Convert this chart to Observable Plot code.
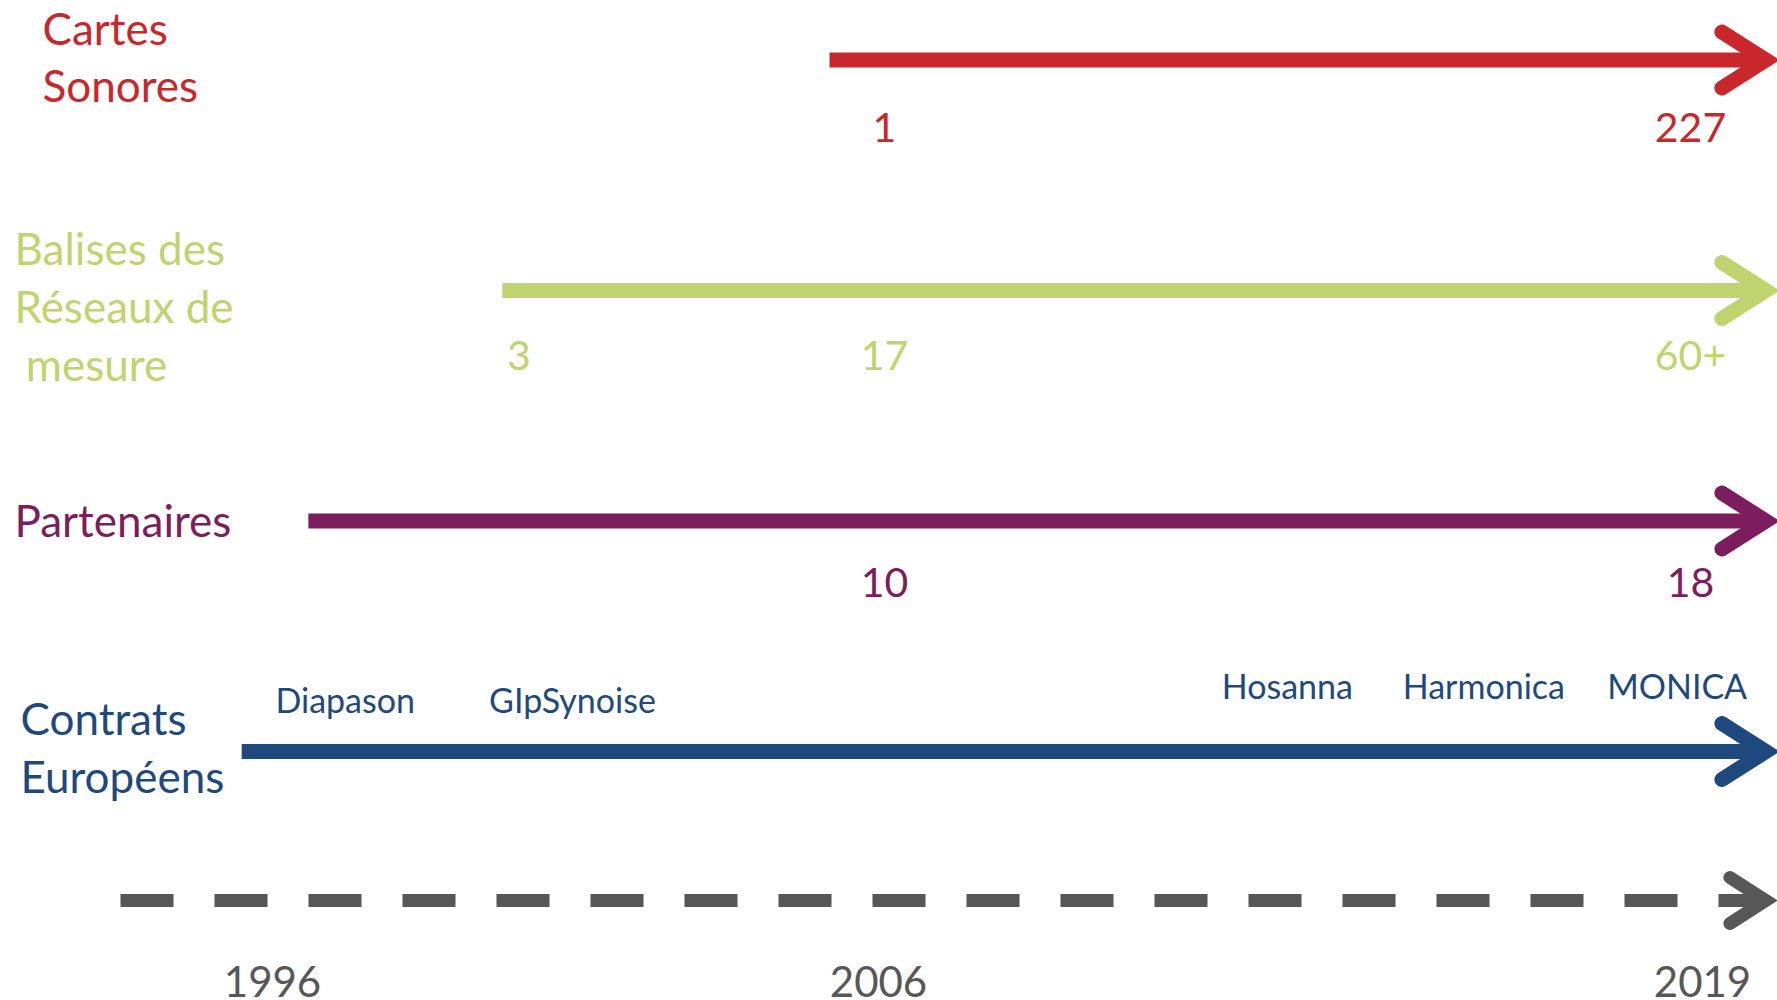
<!DOCTYPE html>
<html>
<head>
<meta charset="utf-8">
<script src="https://cdn.jsdelivr.net/npm/d3@7"></script>
<script src="https://cdn.jsdelivr.net/npm/@observablehq/plot@0.6"></script>
<style>
  html, body { margin: 0; padding: 0; background: #ffffff; overflow: hidden; }
  #chart svg { display: block; }
</style>
</head>
<body>
<div id="chart"></div>
<script>
// ---------- data ----------
const rowIds      = [0, 1, 2, 3];
const rowLabels   = ["Cartes\nSonores", "Balises des\nRéseaux de\n\u00a0mesure", "Partenaires", "Contrats\nEuropéens"];
const startYears  = [2005.2, 1999.8, 1996.6, 1995.5];
const endYears    = [2020, 2020, 2020, 2020];

const countRows   = [0, 0, 1, 1, 1, 2, 2];
const countYears  = [2006, 2019, 2000, 2006, 2019, 2006, 2019];
const countLabels = ["1", "227", "3", "17", "60+", "10", "18"];

const contractNames = ["Diapason", "GIpSynoise", "Hosanna", "Harmonica", "MONICA"];
const contractYears = [1997.2, 2000.95, 2012.45, 2015.55, 2018.6];

const axisYears = [1996, 2006, 2019];
const axisEnd   = 2020;

// ---------- styles ----------
const palette = ["#C8282B", "#BFD46F", "#7C1D5E", "#1F497D"];
const axisGrey = "#575757";
const FONT = "Lato, 'Open Sans', sans-serif";
const BIG = 44, NUM = 41, SMALL = 34, YEAR = 42;
const ML = 120; // left margin: start of the dashed time line
const labelOffsets = [{dx: 42, dy: -5}, {dx: 14, dy: 14}, {dx: 14, dy: -2}, {dx: 20, dy: -6}];
const countDx = {2000: 4, 2006: 6, 2019: -12};
const countDy = [69, 66, 63];

// ---------- tables ----------
const arrows = rowIds.map(i => ({row: i, start: startYears[i], end: endYears[i]}));
const counts = countLabels.map((t, i) => ({row: countRows[i], year: countYears[i], label: t}));
const contracts = contractNames.map((n, i) => ({row: 3, year: contractYears[i], name: n}));

function chevron(back, half) {
  return {draw(ctx) { ctx.moveTo(-half, back); ctx.lineTo(0, 0); ctx.lineTo(half, back); }};
}
const headStyle = {fill: "none", strokeLinecap: "round", strokeLinejoin: "miter", strokeMiterlimit: 10};

const marks = [];

// coloured arrows: shaft + chevron head
arrows.forEach(a => {
  marks.push(Plot.ruleY([a], {
    y: "row", x1: "start", x2: "end",
    stroke: palette[a.row], strokeWidth: 15, strokeLinecap: "butt"
  }));
  marks.push(Plot.vector([a], {
    x: "end", y: "row", rotate: 90, length: 10, anchor: "start",
    shape: chevron(44, 28), stroke: palette[a.row], strokeWidth: 15, ...headStyle
  }));
});

// dashed time line (bottom of the frame) with its head
marks.push(Plot.frame({anchor: "bottom", stroke: axisGrey, strokeWidth: 13, strokeDasharray: "53,41", strokeLinecap: "butt"}));
marks.push(Plot.vector([axisEnd], {
  x: d => d, frameAnchor: "bottom", rotate: 90, length: 10, anchor: "start",
  shape: chevron(36, 23), stroke: axisGrey, strokeWidth: 13, ...headStyle
}));

// row labels
rowLabels.forEach((t, i) => {
  marks.push(Plot.text([{row: i, label: t}], {
    y: "row", text: "label", frameAnchor: "left", textAnchor: "start", lineAnchor: "middle",
    lineHeight: 1.31, fontSize: BIG, fill: palette[i], fontFamily: FONT,
    dx: labelOffsets[i].dx - ML, dy: labelOffsets[i].dy
  }));
});

// counts below arrows
Object.keys(countDx).forEach(y => {
  countDy.forEach((dy, r) => {
    const sub = counts.filter(d => d.year === +y && d.row === r);
    if (!sub.length) return;
    marks.push(Plot.text(sub, {
      x: "year", y: "row", text: "label", fontSize: NUM, fontFamily: FONT,
      fill: palette[r], dx: countDx[y], dy
    }));
  });
});

// contract names above the blue arrow
marks.push(Plot.text(contracts.filter(d => d.year < 2006), {
  x: "year", y: "row", text: "name", fontSize: SMALL, fontFamily: FONT, fill: palette[3], dy: -49
}));
marks.push(Plot.text(contracts.filter(d => d.year >= 2006), {
  x: "year", y: "row", text: "name", fontSize: SMALL, fontFamily: FONT, fill: palette[3], dy: -63
}));

// year axis
marks.push(Plot.axisX({
  ticks: axisYears, tickFormat: d => String(d), tickSize: 0, tickPadding: 67,
  fontSize: YEAR, fill: axisGrey, fontFamily: FONT, label: null, anchor: "bottom"
}));

const chart = Plot.plot({
  width: 1777, height: 1000,
  marginLeft: ML, marginRight: 12, marginTop: 0, marginBottom: 100,
  style: {fontFamily: FONT, background: "#ffffff", overflow: "hidden"},
  color: {type: "identity"},
  x: {type: "linear", domain: [1996, 2006, 2019], range: [272, 878, 1702]},
  y: {domain: [0, 3], range: [59.5, 751], axis: null},
  marks
});
document.getElementById("chart").appendChild(chart);
</script>
</body>
</html>
